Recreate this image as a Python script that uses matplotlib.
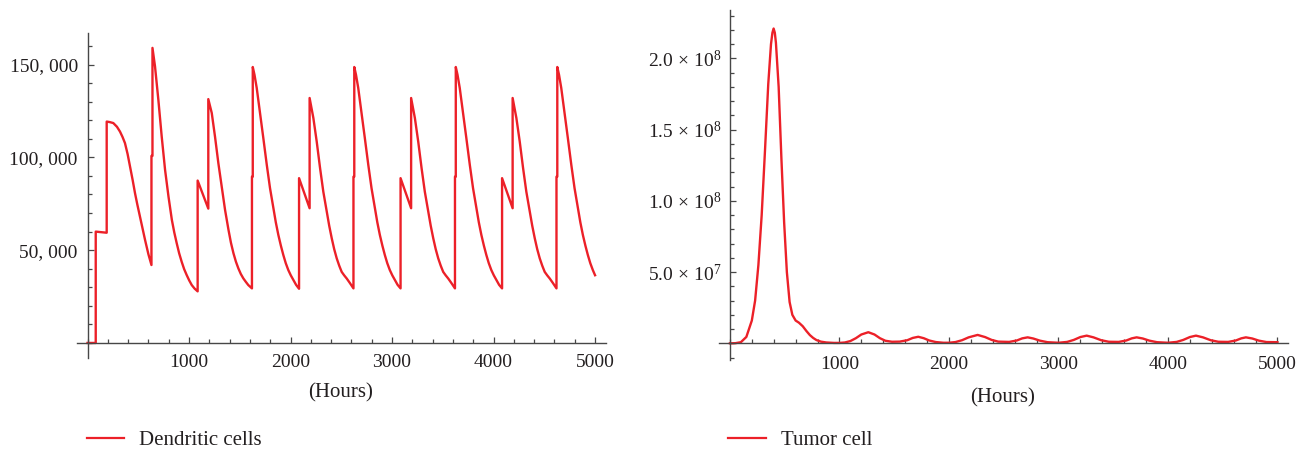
import matplotlib
matplotlib.use("Agg")
from matplotlib import pyplot as plt
from matplotlib import ticker
from matplotlib.lines import Line2D

plt.rcParams["font.family"] = ["Liberation Serif", "DejaVu Serif"]
plt.rcParams["mathtext.fontset"] = "custom"
plt.rcParams["mathtext.rm"] = "Liberation Serif"
plt.rcParams["mathtext.it"] = "Liberation Serif:italic"

RED = "#ec2028"
INK = "#231f20"
AXIS = "#474747"

# dendritic cells, doses show up as vertical jumps (repeated hours)
dc_hours = [
    0, 81, 81, 189, 189, 220, 254, 290, 320, 345, 369, 395, 419, 445, 468, 490, 517, 540, 567, 600, 630,
    630, 640, 640, 665, 698, 731, 764, 798, 831, 855, 879, 903, 928, 952, 977, 1002, 1027, 1055, 1085,
    1085, 1190, 1190, 1224, 1256, 1289, 1322, 1355, 1389, 1413, 1438, 1462, 1486, 1510, 1535, 1560, 1584, 1620,
    1620, 1628, 1628, 1645, 1667, 1700, 1732, 1766, 1798, 1831, 1855, 1880, 1905, 1929, 1953, 1978, 2003, 2028, 2055, 2084,
    2084, 2188, 2188, 2225, 2258, 2291, 2323, 2357, 2381, 2406, 2430, 2455, 2480, 2504, 2529, 2554, 2586, 2620,
    2620, 2628, 2628, 2645, 2667, 2700, 2732, 2766, 2798, 2831, 2855, 2880, 2905, 2929, 2953, 2978, 3003, 3028, 3055, 3084,
    3084, 3188, 3188, 3225, 3258, 3291, 3323, 3357, 3381, 3406, 3430, 3455, 3480, 3504, 3529, 3554, 3586, 3620,
    3620, 3628, 3628, 3645, 3667, 3700, 3732, 3766, 3798, 3831, 3855, 3880, 3905, 3929, 3953, 3978, 4003, 4028, 4055, 4084,
    4084, 4188, 4188, 4225, 4258, 4291, 4323, 4357, 4381, 4406, 4430, 4455, 4480, 4504, 4529, 4554, 4586, 4620,
    4620, 4628, 4628, 4645, 4667, 4700, 4732, 4766, 4798, 4831, 4855, 4880, 4905, 4929, 4953, 4978, 5000,
]
dc_cells = [
    0, 0, 60000, 59400, 119300, 119000, 118500, 116500, 113900, 111000, 107700, 101800, 95000, 87700, 80700, 74800, 68000, 62000, 55500, 47800, 42000,
    100800, 100800, 159000, 149000, 131000, 111200, 93300, 78800, 66300, 59500, 53700, 48300, 43700, 39800, 36600, 33700, 31200, 29300, 27800,
    87500, 72400, 131400, 123900, 111200, 96900, 84200, 71700, 60900, 54000, 48300, 43800, 40200, 37200, 34800, 32900, 31200, 29400,
    89600, 89600, 148700, 144500, 137400, 123900, 110400, 96000, 83400, 72600, 65000, 58200, 52400, 47400, 43000, 39300, 36400, 33900, 31300, 29200,
    88800, 72600, 132000, 121200, 108500, 94200, 81500, 70700, 63200, 56400, 50600, 45600, 41600, 38300, 36400, 34700, 32200, 29400,
    89600, 89600, 148700, 144500, 137400, 123900, 110400, 96000, 83400, 72600, 65000, 58200, 52400, 47400, 43000, 39300, 36400, 33900, 31300, 29400,
    88800, 72600, 132000, 121200, 108500, 94200, 81500, 70700, 63200, 56400, 50600, 45600, 41600, 38300, 36400, 34700, 32200, 29400,
    89600, 89600, 148700, 144500, 137400, 123900, 110400, 96000, 83400, 72600, 65000, 58200, 52400, 47400, 43000, 39300, 36400, 33900, 31300, 29400,
    88800, 72600, 132000, 121200, 108500, 94200, 81500, 70700, 63200, 56400, 50600, 45600, 41600, 38300, 36400, 34700, 32200, 29400,
    89600, 89600, 148700, 144500, 137400, 123900, 110400, 96000, 83400, 72600, 65000, 58200, 52400, 47400, 43000, 39300, 36500,
]

tumor_hours = [
    0, 50, 100, 150, 200, 230, 260, 290, 320, 350, 375, 388, 399, 410, 420, 445, 470, 495, 520, 545, 570, 600,
    630, 665, 700, 730, 760, 790, 830, 880, 950, 1000, 1050, 1100, 1150, 1200, 1264, 1320, 1370, 1420,
    1480, 1550, 1620, 1670, 1720, 1770, 1820, 1880, 1950, 2000, 2060, 2120, 2180, 2262, 2330, 2390, 2450,
    2550, 2620, 2670, 2719, 2770, 2830, 2900, 3000, 3080, 3140, 3200, 3258, 3320, 3390, 3460,
    3550, 3620, 3670, 3714, 3770, 3830, 3900, 4000, 4080, 4140, 4200, 4256, 4320, 4390, 4460,
    4550, 4620, 4670, 4712, 4770, 4830, 4900, 5000,
]
tumor_cells = [
    0, 0.1e6, 0.8e6, 4.5e6, 1.6e7, 3.0e7, 5.5e7, 9.0e7, 1.35e8, 1.82e8, 2.10e8, 2.18e8, 2.21e8, 2.18e8, 2.11e8, 1.80e8, 1.30e8, 8.5e7, 5.0e7, 2.9e7, 2.0e7, 1.6e7,
    1.45e7, 1.2e7, 8.5e6, 5.8e6, 3.8e6, 2.3e6, 1.2e6, 0.6e6, 0.3e6, 0.3e6, 0.6e6, 1.6e6, 3.6e6, 6.2e6, 7.8e6, 6.2e6, 3.6e6, 1.8e6,
    1.1e6, 1.2e6, 2.2e6, 3.8e6, 4.6e6, 3.6e6, 2.0e6, 0.9e6, 0.4e6, 0.4e6, 0.9e6, 2.2e6, 4.2e6, 5.9e6, 4.4e6, 2.4e6, 1.2e6,
    1.0e6, 2.0e6, 3.5e6, 4.2e6, 3.4e6, 1.9e6, 0.8e6, 0.4e6, 1.0e6, 2.4e6, 4.4e6, 5.4e6, 4.2e6, 2.2e6, 1.1e6,
    1.0e6, 2.0e6, 3.5e6, 4.2e6, 3.4e6, 1.9e6, 0.8e6, 0.4e6, 1.0e6, 2.4e6, 4.4e6, 5.4e6, 4.2e6, 2.2e6, 1.1e6,
    1.0e6, 2.0e6, 3.5e6, 4.2e6, 3.4e6, 1.9e6, 0.9e6, 0.8e6,
]

hour_ticks = [1000, 2000, 3000, 4000, 5000]
dc_ticks = [50000, 100000, 150000]
tumor_ticks = [5e7, 1e8, 1.5e8, 2e8]


def thousands(v, pos):
    v = int(round(v))
    return "%d, %03d" % (v // 1000, v % 1000)


def sci(v, pos):
    exp = 0
    m = v
    while m >= 10:
        m /= 10
        exp += 1
    return r"$%.1f\,\times\,10^{%d}$" % (m, exp)


def style_axes(ax, yminor, ypad, xpad):
    for side in ["top", "right"]:
        ax.spines[side].set_visible(False)
    for side in ["left", "bottom"]:
        ax.spines[side].set_position(("data", 0))
        ax.spines[side].set_color(AXIS)
        ax.spines[side].set_linewidth(1.0)
    ax.xaxis.set_major_locator(ticker.FixedLocator(hour_ticks))
    ax.xaxis.set_minor_locator(ticker.MultipleLocator(200))
    ax.yaxis.set_minor_locator(ticker.MultipleLocator(yminor))
    ax.tick_params(which="both", direction="in", color=AXIS, width=0.9,
                   labelsize=14, labelcolor=INK)
    ax.tick_params(which="major", length=4.5)
    ax.tick_params(which="minor", length=2.6)
    ax.tick_params(axis="y", pad=ypad)
    ax.tick_params(axis="x", pad=xpad)
    ax.patch.set_visible(False)


fig = plt.figure(figsize=(13.12, 4.5), dpi=100)

ax1 = fig.add_axes([0.05896, 0.2038, 0.4031, 0.7236])
ax1.plot(dc_hours, dc_cells, color=RED, lw=1.7)
ax1.set_xlim(-100, 5110)
ax1.set_ylim(-8260, 167200)
ax1.yaxis.set_major_locator(ticker.FixedLocator(dc_ticks))
ax1.yaxis.set_major_formatter(ticker.FuncFormatter(thousands))
style_axes(ax1, 10000, 7, 8)
ax1.set_xlabel("(Hours)", fontsize=15, color=INK)
ax1.xaxis.set_label_coords(0.4986, -0.1066)
ax1.xaxis.label.set_va("center")

ax2 = fig.add_axes([0.548, 0.2, 0.434, 0.7778])
ax2.plot(tumor_hours, tumor_cells, color=RED, lw=1.7)
ax2.set_xlim(-100, 5100)
ax2.set_ylim(-1.17e7, 2.34e8)
ax2.yaxis.set_major_locator(ticker.FixedLocator(tumor_ticks))
ax2.yaxis.set_major_formatter(ticker.FuncFormatter(sci))
style_axes(ax2, 1e7, 6, 9)
ax2.set_xlabel("(Hours)", fontsize=15, color=INK)
ax2.xaxis.set_label_coords(0.4987, -0.1086)
ax2.xaxis.label.set_va("center")

for x, name in [(0.0661, "Dendritic cells"), (0.5551, "Tumor cell")]:
    handle = Line2D([], [], color=RED, lw=1.6)
    fig.legend(handles=[handle], labels=[name], loc="center left",
               bbox_to_anchor=(x, 0.0215), frameon=False, borderpad=0,
               borderaxespad=0, handlelength=1.8, handletextpad=0.72,
               fontsize=15, labelcolor=INK)

fig.savefig("out.png", dpi=100)
